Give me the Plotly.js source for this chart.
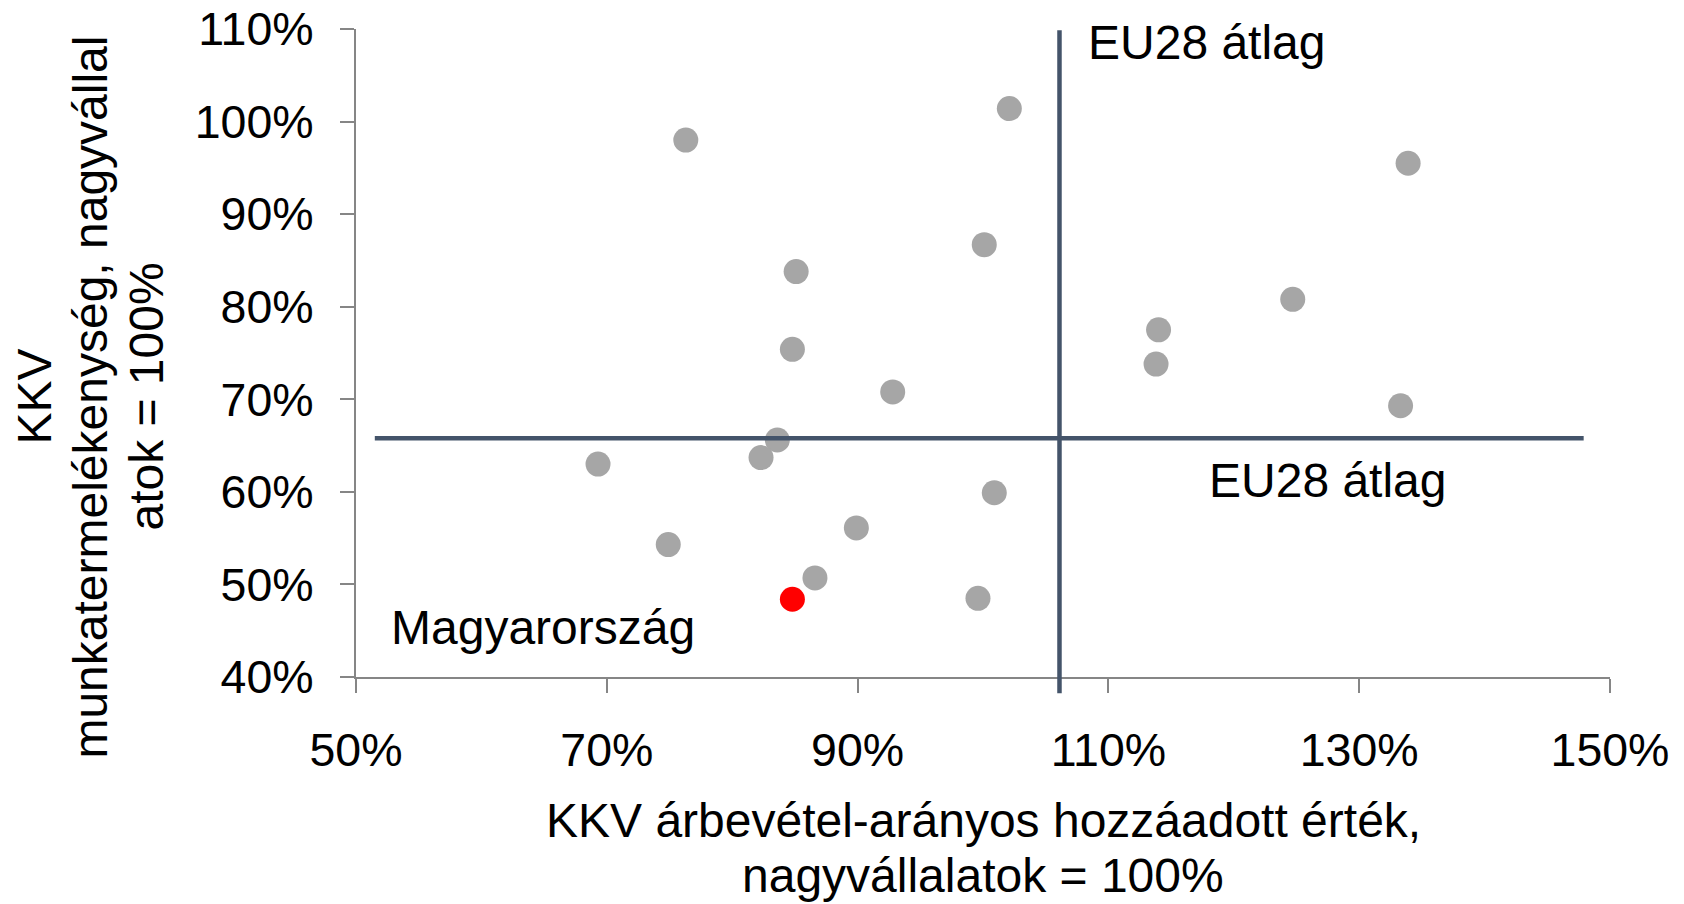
<!DOCTYPE html>
<html>
<head>
<meta charset="utf-8">
<script src="https://cdn.plot.ly/plotly-3.0.1.min.js"></script>
<style>html,body{margin:0;padding:0;background:#fff;}#chart{width:1684px;height:904px;}</style>
</head>
<body>
<div id="chart"></div>
<script>
// Other EU countries: SME value added ratio (x) and labour productivity ratio (y), large firms = 100%
const countriesX = [76.3, 102.1, 133.9, 100.1, 85.1, 124.7, 114.0, 84.8, 113.8, 92.8, 133.3, 83.6, 82.3, 69.3, 100.9, 89.9, 74.9, 86.6, 99.6];
const countriesY = [98.0, 101.4, 95.5, 86.7, 83.8, 80.8, 77.5, 75.4, 73.8, 70.8, 69.3, 65.6, 63.7, 63.0, 59.9, 56.1, 54.3, 50.7, 48.5];
// Hungary
const huX = [84.8];
const huY = [48.4];
// EU28 averages
const euAvgX = 106.1;
const euAvgY = 65.8;
const hLineStart = 51.5;
const hLineEnd = 147.9;
// Texts
const labelEU = 'EU28 átlag';
const labelHU = 'Magyarország';
const xTitleLines = ['KKV árbevétel-arányos hozzáadott érték,', 'nagyvállalatok = 100%'];
const yTitleLines = ['KKV', 'munkatermelékenység, nagyvállal', 'atok = 100%'];

const FONT = 'Liberation Sans, Arial, sans-serif';
const AXC = '#868686';
const LINEC = '#44546A';

const traces = [
  {x: countriesX, y: countriesY, type: 'scatter', mode: 'markers', cliponaxis: false,
   marker: {color: '#A6A6A6', size: 25, line: {width: 0}}, hoverinfo: 'x+y'},
  {x: huX, y: huY, type: 'scatter', mode: 'markers', cliponaxis: false,
   marker: {color: '#FF0000', size: 25, line: {width: 0}}, hoverinfo: 'x+y'}
];

const txt = (s) => ({text: s, showarrow: false, font: {family: FONT, size: 48, color: '#000'}});

const annotations = [
  Object.assign(txt(labelEU), {xref: 'x', yref: 'y', x: 117.9, y: 108.5, xanchor: 'center', yanchor: 'middle'}),
  Object.assign(txt(labelEU), {xref: 'x', yref: 'y', x: 127.55, y: 61.2, xanchor: 'center', yanchor: 'middle'}),
  Object.assign(txt(labelHU), {xref: 'x', yref: 'y', x: 64.9, y: 45.3, xanchor: 'center', yanchor: 'middle'}),
  Object.assign(txt(xTitleLines[0]), {xref: 'paper', yref: 'paper', x: 0.5, y: 0, yshift: -143, xanchor: 'center', yanchor: 'middle'}),
  Object.assign(txt(xTitleLines[1]), {xref: 'paper', yref: 'paper', x: 0.5, y: 0, yshift: -198, xanchor: 'center', yanchor: 'middle'}),
  Object.assign(txt(yTitleLines[0]), {xref: 'paper', yref: 'paper', x: 0, xshift: -321.5, y: 0.432, textangle: -90, xanchor: 'center', yanchor: 'middle'}),
  Object.assign(txt(yTitleLines[1]), {xref: 'paper', yref: 'paper', x: 0, xshift: -265.5, y: 0.432, textangle: -90, xanchor: 'center', yanchor: 'middle'}),
  Object.assign(txt(yTitleLines[2]), {xref: 'paper', yref: 'paper', x: 0, xshift: -209.5, y: 0.432, textangle: -90, xanchor: 'center', yanchor: 'middle'})
];

const axisCommon = {
  showgrid: false, zeroline: false, showline: true, linecolor: AXC, linewidth: 2,
  ticks: 'outside', ticklen: 14, tickwidth: 2, tickcolor: AXC, ticksuffix: '%',
  tickfont: {family: FONT, size: 46.5, color: '#000'}, fixedrange: true
};

const layout = {
  width: 1684, height: 904, autosize: false,
  margin: {l: 356, r: 74, t: 29, b: 227, pad: 0},
  paper_bgcolor: '#fff', plot_bgcolor: '#fff',
  showlegend: false,
  font: {family: FONT, color: '#000'},
  xaxis: Object.assign({}, axisCommon, {range: [50, 150], tick0: 50, dtick: 20, ticklabelstandoff: 17}),
  yaxis: Object.assign({}, axisCommon, {range: [40, 110], tick0: 40, dtick: 10, ticklabelstandoff: 17}),
  shapes: [
    {type: 'line', layer: 'above', xref: 'x', yref: 'paper', x0: euAvgX, x1: euAvgX, y0: -0.025, y1: 0.998,
     line: {color: LINEC, width: 4.5}},
    {type: 'line', layer: 'above', xref: 'x', yref: 'y', x0: hLineStart, x1: hLineEnd, y0: euAvgY, y1: euAvgY,
     line: {color: LINEC, width: 4.5}}
  ],
  annotations: annotations
};

Plotly.newPlot('chart', traces, layout, {displayModeBar: false, staticPlot: true});
</script>
</body>
</html>
